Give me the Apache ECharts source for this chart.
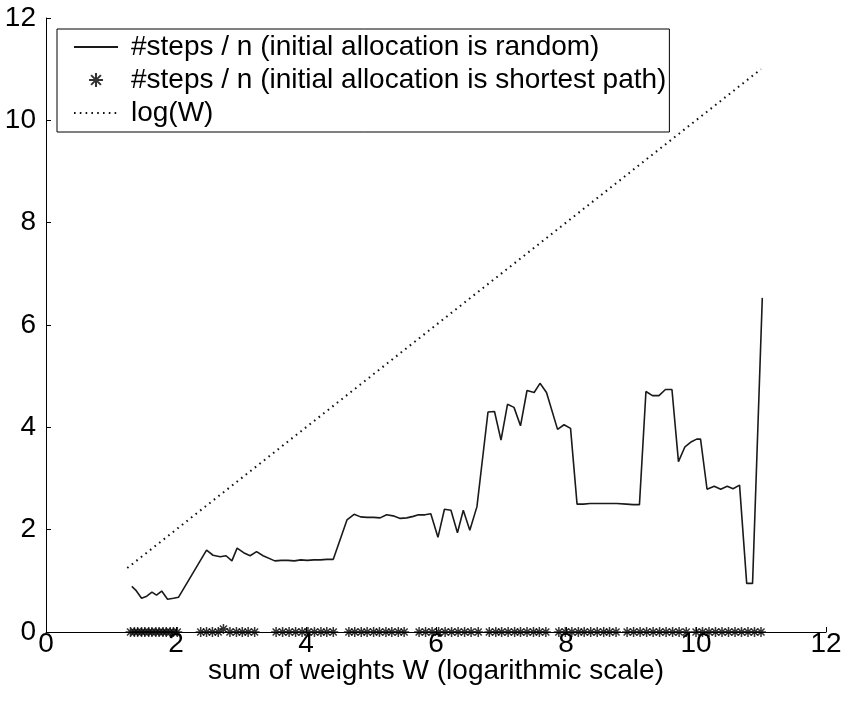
<!DOCTYPE html>
<html>
<head>
<meta charset="utf-8">
<script src="https://cdn.jsdelivr.net/npm/echarts@6/dist/echarts.min.js"></script>
<style>
html,body{margin:0;padding:0;background:#fff;}
#c{width:849px;height:705px;}
</style>
</head>
<body>
<div id="c"></div>
<script>
// ---- data ----
const seriesNames = [
  '#steps / n (initial allocation is random)',
  '#steps / n (initial allocation is shortest path)',
  'log(W)'
];
const xTicks = [0, 2, 4, 6, 8, 10, 12];
const yTicks = [0, 2, 4, 6, 8, 10, 12];

const randomX = [1.32,1.38,1.47,1.55,1.63,1.70,1.78,1.87,1.96,2.04,
  2.47,2.57,2.68,2.77,2.86,2.94,3.04,3.14,3.24,3.34,3.52,3.62,3.72,3.82,3.92,4.02,4.12,4.22,4.32,4.42,
  4.63,4.74,4.84,4.94,5.04,5.14,5.24,5.34,5.45,5.55,5.65,5.73,5.83,5.92,6.03,6.13,6.23,6.33,6.42,6.52,6.63,
  6.80,6.90,7.00,7.10,7.20,7.30,7.40,7.51,7.60,7.70,7.87,7.97,8.07,8.17,8.27,8.37,8.47,8.57,8.67,8.78,8.93,9.03,9.13,
  9.23,9.33,9.43,9.53,9.63,9.73,9.83,9.93,10.01,10.07,10.17,10.28,10.38,10.48,10.57,10.67,10.78,10.87,11.02];
const randomY = [0.89,0.82,0.66,0.70,0.78,0.72,0.80,0.64,0.66,0.68,
  1.60,1.50,1.47,1.49,1.39,1.64,1.55,1.49,1.57,1.49,1.39,1.40,1.40,1.39,1.41,1.40,1.41,1.41,1.42,1.42,
  2.19,2.30,2.25,2.24,2.24,2.23,2.29,2.27,2.22,2.23,2.26,2.29,2.29,2.31,1.85,2.40,2.38,1.94,2.38,1.99,2.45,
  4.30,4.31,3.75,4.45,4.39,4.03,4.72,4.68,4.86,4.68,3.96,4.05,3.98,2.50,2.50,2.51,2.51,2.51,2.51,2.51,2.50,2.49,2.49,
  4.70,4.62,4.62,4.74,4.74,3.33,3.62,3.72,3.77,3.77,2.79,2.85,2.79,2.85,2.80,2.87,0.95,0.95,6.53];

const shortestX = [1.30,1.36,1.41,1.47,1.52,1.58,1.63,1.69,1.74,1.80,1.85,1.91,1.96,2.02,
  2.38,2.47,2.56,2.65,2.73,2.83,2.93,3.02,3.11,3.21,
  3.54,3.64,3.74,3.84,3.94,4.03,4.13,4.23,4.32,4.42,
  4.66,4.75,4.85,4.94,5.04,5.13,5.23,5.32,5.42,5.51,
  5.74,5.84,5.94,6.04,6.14,6.24,6.34,6.44,6.54,6.65,
  6.82,6.92,7.01,7.11,7.21,7.30,7.40,7.50,7.59,7.69,
  7.89,7.99,8.09,8.19,8.28,8.38,8.48,8.58,8.67,8.77,
  8.94,9.04,9.14,9.24,9.34,9.44,9.54,9.64,9.74,9.85,
  10.00,10.10,10.20,10.30,10.40,10.50,10.60,10.70,10.80,10.90,11.00];
const shortestY = [0,0,0,0,0,0,0,0,0,0,0,0,0,0,
  0,0,0,0,0.06,0,0,0,0,0,
  0,0,0,0,0,0,0,0,0,0,
  0,0,0,0,0,0,0,0,0,0,
  0,0,0,0,0,0,0,0,0,0,
  0,0,0,0,0,0,0,0,0,0,
  0,0,0,0,0,0,0,0,0,0,
  0,0,0,0,0,0,0,0,0,0,
  0,0,0,0,0,0,0,0,0,0,0];

const logX = [1.25, 11.0];
const logY = [1.25, 11.0];

const xAxisName = 'sum of weights W (logarithmic scale)';

// ---- chart ----
const zip = (a, b) => a.map((v, i) => [v, b[i]]);
const FONT = '"Liberation Sans", Arial, sans-serif';
const FS = 28;
const starPath = 'path://M5 0 L5 10 M0 5 L10 5 M1.5 1.5 L8.5 8.5 M8.5 1.5 L1.5 8.5';
const hideSym = {color: 'rgba(0,0,0,0)', borderWidth: 0, opacity: 0};

const chart = echarts.init(document.getElementById('c'), null, {renderer: 'canvas'});
const axisCommon = {
  min: 0, max: 12, interval: 2,
  axisLine: {show: true, onZero: false, lineStyle: {color: '#000', width: 1}},
  axisTick: {show: true, inside: true, length: 5, lineStyle: {color: '#000', width: 1}},
  splitLine: {show: false},
  axisLabel: {color: '#000', fontSize: FS, fontFamily: FONT}
};
chart.setOption({
  animation: false,
  backgroundColor: '#fff',
  grid: {left: 46, right: 23, top: 18, bottom: 73, containLabel: false},
  xAxis: Object.assign({}, axisCommon, {
    type: 'value',
    name: xAxisName,
    nameLocation: 'middle',
    nameGap: 25,
    nameMoveOverlap: false,
    nameTextStyle: {color: '#000', fontSize: FS, fontFamily: FONT},
    axisLabel: Object.assign({}, axisCommon.axisLabel, {margin: -2,
      formatter: v => xTicks.includes(v) ? String(v) : ''})
  }),
  yAxis: Object.assign({}, axisCommon, {
    type: 'value',
    axisLabel: Object.assign({}, axisCommon.axisLabel, {margin: 10,
      formatter: v => yTicks.includes(v) ? String(v) : ''})
  }),
  legend: {
    orient: 'vertical',
    left: 57, top: 29,
    backgroundColor: '#fff',
    borderColor: '#000', borderWidth: 1, borderRadius: 0,
    padding: [4, 3, 5, 16],
    itemWidth: 44, itemHeight: 14, itemGap: 5,
    textStyle: {color: '#000', fontSize: FS, fontFamily: FONT, lineHeight: 28, padding: [0, 0, 0, 8]},
    data: [
      {name: seriesNames[0], itemStyle: hideSym},
      {name: seriesNames[1]},
      {name: seriesNames[2], itemStyle: hideSym}
    ]
  },
  series: [
    {
      name: seriesNames[0], type: 'line', data: zip(randomX, randomY),
      symbol: 'none', lineStyle: {color: '#1a1a1a', width: 1.6}, itemStyle: {color: '#1a1a1a'}, z: 3
    },
    {
      name: seriesNames[1], type: 'scatter', data: zip(shortestX, shortestY),
      symbol: starPath, symbolSize: 10,
      itemStyle: {color: 'rgba(0,0,0,0)', borderColor: '#000', borderWidth: 1.5}, z: 4
    },
    {
      name: seriesNames[2], type: 'line', data: zip(logX, logY),
      symbol: 'none', lineStyle: {color: '#111', width: 2, type: [1.6, 4.2]}, itemStyle: {color: '#111'}, z: 2
    }
  ]
});
</script>
</body>
</html>
